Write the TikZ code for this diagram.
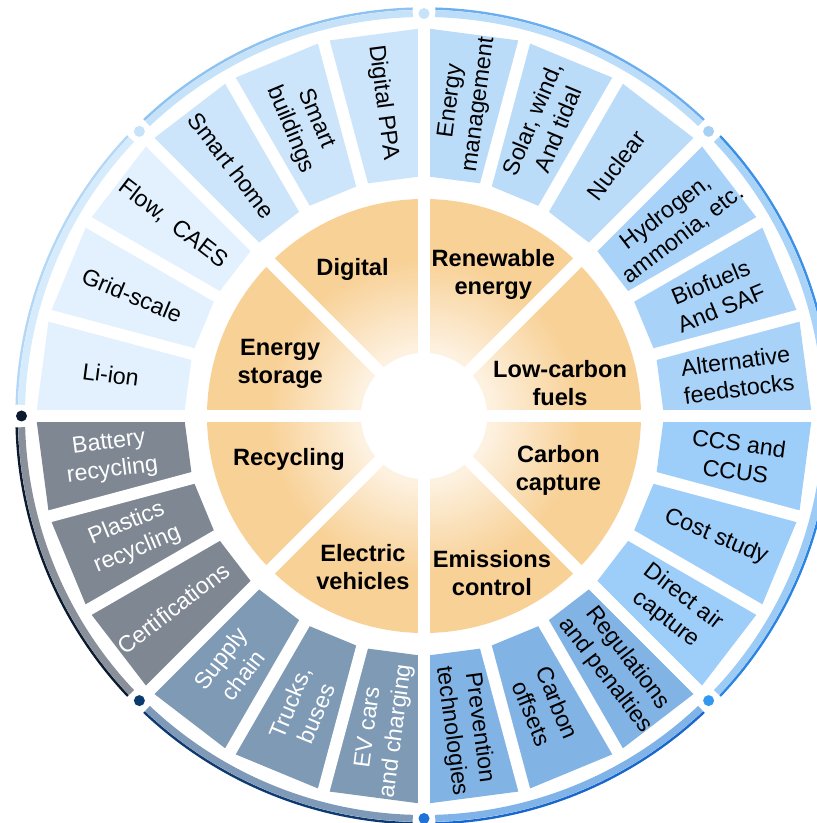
\documentclass[tikz,border=0pt]{standalone}
\usepackage{fontspec}
\setmainfont{Liberation Sans}
\usepackage{tikz}
\usetikzlibrary{positioning}

\definecolor{core}{HTML}{F8D197}
\definecolor{storeC}{HTML}{E2F1FD}
\definecolor{digiC}{HTML}{CDE5FA}
\definecolor{renewC}{HTML}{BBDCF9}
\definecolor{fuelC}{HTML}{A9D2F8}
\definecolor{captC}{HTML}{9DCDF9}
\definecolor{emisC}{HTML}{82B3E5}
\definecolor{evC}{HTML}{7F9AB5}
\definecolor{recyC}{HTML}{7F8793}
% rim colours, one per 45 degree stretch
\definecolor{rimband0}{HTML}{D6EBFB}\definecolor{rimline0}{HTML}{B3D7F6}
\definecolor{rimband1}{HTML}{C6E2F9}\definecolor{rimline1}{HTML}{8EC2F0}
\definecolor{rimband2}{HTML}{BCDDF9}\definecolor{rimline2}{HTML}{6AAEEF}
\definecolor{rimband3}{HTML}{A9D3F7}\definecolor{rimline3}{HTML}{3A8FE6}
\definecolor{rimband4}{HTML}{9CCBF6}\definecolor{rimline4}{HTML}{2A84E3}
\definecolor{rimband5}{HTML}{80B4E8}\definecolor{rimline5}{HTML}{1767CC}
\definecolor{rimband6}{HTML}{7F9AB8}\definecolor{rimline6}{HTML}{0D3A70}
\definecolor{rimband7}{HTML}{8A909A}\definecolor{rimline7}{HTML}{0A1A30}
\definecolor{dot0}{HTML}{0B1A2E}
\definecolor{dot1}{HTML}{C6E3FA}
\definecolor{dot2}{HTML}{C6E3FA}
\definecolor{dot3}{HTML}{A7D0F5}
\definecolor{dot5}{HTML}{3399F0}
\definecolor{dot6}{HTML}{1E72D8}
\definecolor{dot7}{HTML}{0B3A6E}

\pgfdeclareradialshading{coreglow}{\pgfpoint{0bp}{0bp}}{%
  color(0bp)=(white); color(7bp)=(core!25); color(18bp)=(core); color(50bp)=(core)}

\tikzset{
  hub node/.style={font=\fontsize{11.8}{14}\selectfont\bfseries,align=center,inner sep=0pt},
  leaf node/.style={font=\fontsize{11.6}{14}\selectfont,align=center,inner sep=0pt},
  pale leaf/.style={leaf node,text=white},
  cut line/.style={white,line width=6pt},
  ring dot/.style={circle,inner sep=0pt,minimum size=5.5pt},
}

\begin{document}
\begin{tikzpicture}[x=0.5pt,y=0.5pt]
  \useasboundingbox (-424,-407) rectangle (393,416);

  % outer boxes, 15 degrees each
  \foreach \col [count=\i from 0] in {storeC,storeC,storeC,digiC,digiC,digiC,renewC,renewC,renewC,fuelC,fuelC,fuelC,captC,captC,captC,emisC,emisC,emisC,evC,evC,evC,recyC,recyC,recyC}{
    \pgfmathsetmacro\a{180-15*\i}
    \fill[\col] (\a:240) -- (\a:388) -- ({\a-15}:388) -- ({\a-15}:240) -- cycle;
  }
  \foreach \a in {0,15,...,345}
    \draw[cut line] (\a:230) -- (\a:395);

  % core wheel
  \shade[shading=coreglow] (0,0) circle (217);
  \foreach \a in {0,45,90,135}
    \draw[cut line] (\a:225) -- ({\a+180}:225);
  \fill[white] (0,0) circle (63);

  % rim
  \foreach \k in {0,...,7}{
    \pgfmathsetmacro\a{180-45*\k-1.6}
    \pgfmathsetmacro\b{135-45*\k+1.6}
    \draw[rimband\k,line width=3.5pt] (\a:402.5) arc[start angle=\a,end angle=\b,radius=402.5];
    \draw[rimline\k,line width=1.2pt] (\a:407.5) arc[start angle=\a,end angle=\b,radius=407.5];
  }
  \foreach \a/\c [count=\k] in {180/dot0,135/dot1,90/dot2,45/dot3,-45/dot5,-90/dot6,-135/dot7}
    \node[ring dot,fill=\c] (dot\k) at (\a:402.5) {};

  % categories
  \node[hub node] (digital) at (116:163) {Digital};
  \node[hub node] (renew) at (64:158) {Renewable\\energy};
  \node[hub node] (lowcarb) at (13.6:140) {Low-carbon\\fuels};
  \node[hub node] (capture) at (-22:145) {Carbon\\capture};
  \node[hub node] (emission) at (-66.6:171) {Emissions\\control};
  \node[hub node] (ev) at (-112:163) {Electric\\vehicles};
  \node[hub node] (recycle) at (-162:142) {Recycling};
  \node[hub node] (storage) at (160:153) {Energy\\storage};

  % topics
  \node[leaf node,rotate=-7.5] (liion) at (172.5:316) {Li-ion};
  \node[leaf node,rotate=-22.5] (grid) at (157.5:316) {Grid-scale};
  \node[leaf node,rotate=-37.5] (flow) at (142.5:316) {Flow,~ CAES};
  \node[leaf node,rotate=-52.5] (home) at (127.5:316) {Smart home};
  \node[leaf node,rotate=-67.5] (bldg) at (112.5:316) {Smart\\buildings};
  \node[leaf node,rotate=-82.5] (ppa) at (97.5:316) {Digital PPA};
  \node[leaf node,rotate=82.5] (emgmt) at (82.5:316) {Energy\\management};
  \node[leaf node,rotate=67.5] (solar) at (67.5:316) {Solar, wind,\\And tidal};
  \node[leaf node,rotate=52.5] (nuclear) at (52.5:316) {Nuclear};
  \node[leaf node,rotate=37.5] (hydro) at (37.5:316) {Hydrogen,\\ammonia, etc.};
  \node[leaf node,rotate=22.5] (biofuel) at (22.5:316) {Biofuels\\And SAF};
  \node[leaf node,rotate=7.5] (feed) at (7.5:316) {Alternative\\feedstocks};
  \node[leaf node,rotate=-7.5] (ccs) at (-7.5:316) {CCS and\\CCUS};
  \node[leaf node,rotate=-22.5] (cost) at (-22.5:316) {Cost study};
  \node[leaf node,rotate=-37.5] (dac) at (-37.5:316) {Direct air\\capture};
  \node[leaf node,rotate=-52.5] (regs) at (-52.5:316) {Regulations\\and penalties};
  \node[leaf node,rotate=-67.5] (offset) at (-67.5:316) {Carbon\\offsets};
  \node[leaf node,rotate=-82.5] (prevent) at (-82.5:316) {Prevention\\technologies};
  \node[pale leaf,rotate=82.5] (evcar) at (-97.5:316) {EV cars\\and charging};
  \node[pale leaf,rotate=67.5] (truck) at (-112.5:316) {Trucks,\\buses};
  \node[pale leaf,rotate=52.5] (supply) at (-127.5:316) {Supply\\chain};
  \node[pale leaf,rotate=37.5] (cert) at (-142.5:316) {Certifications};
  \node[pale leaf,rotate=22.5] (plastic) at (-157.5:316) {Plastics\\recycling};
  \node[pale leaf,rotate=7.5] (battery) at (-172.5:316) {Battery\\recycling};
\end{tikzpicture}
\end{document}
